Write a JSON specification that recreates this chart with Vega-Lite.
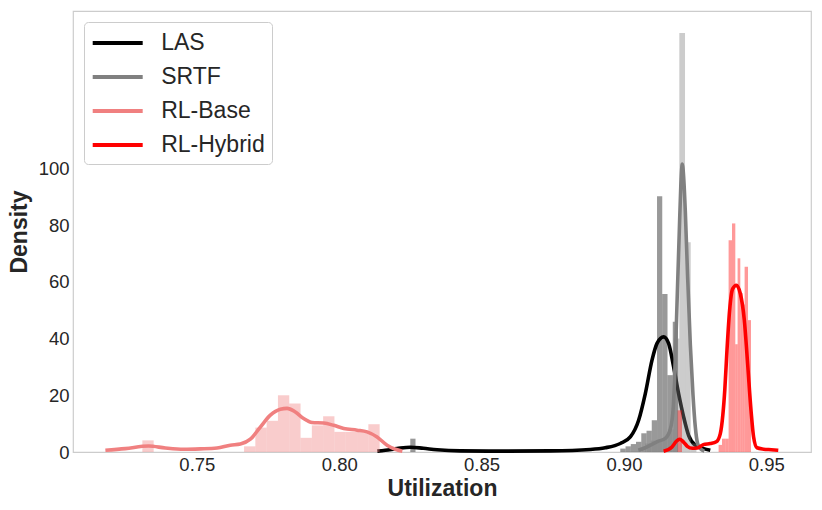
{
  "$schema": "https://vega.github.io/schema/vega-lite/v6.json",
  "width": 738,
  "height": 441,
  "autosize": {"type": "none"},
  "padding": {"left": 73, "top": 11, "right": 11, "bottom": 58},
  "background": "white",
  "datasets": {
    "hist": [
      {"g": "LAS", "x": 0.82496, "x2": 0.82680, "d": 4.7},
      {"g": "LAS", "x": 0.89871, "x2": 0.90056, "d": 1.2},
      {"g": "LAS", "x": 0.90056, "x2": 0.90240, "d": 2.0},
      {"g": "LAS", "x": 0.90240, "x2": 0.90424, "d": 2.8},
      {"g": "LAS", "x": 0.90424, "x2": 0.90609, "d": 3.6},
      {"g": "LAS", "x": 0.90609, "x2": 0.90793, "d": 6.6},
      {"g": "LAS", "x": 0.90793, "x2": 0.90977, "d": 7.5},
      {"g": "LAS", "x": 0.90977, "x2": 0.91162, "d": 11.2},
      {"g": "LAS", "x": 0.91162, "x2": 0.91346, "d": 90.2},
      {"g": "LAS", "x": 0.91346, "x2": 0.91531, "d": 55.7},
      {"g": "LAS", "x": 0.91531, "x2": 0.91715, "d": 27.1},
      {"g": "LAS", "x": 0.91715, "x2": 0.91899, "d": 45.9},
      {"g": "SRTF", "x": 0.90744, "x2": 0.90944, "d": 3},
      {"g": "SRTF", "x": 0.90944, "x2": 0.91144, "d": 4},
      {"g": "SRTF", "x": 0.91144, "x2": 0.91344, "d": 4},
      {"g": "SRTF", "x": 0.91344, "x2": 0.91545, "d": 5},
      {"g": "SRTF", "x": 0.91545, "x2": 0.91745, "d": 8},
      {"g": "SRTF", "x": 0.91745, "x2": 0.91945, "d": 40},
      {"g": "SRTF", "x": 0.91945, "x2": 0.92145, "d": 147.7},
      {"g": "SRTF", "x": 0.92145, "x2": 0.92345, "d": 74},
      {"g": "SRTF", "x": 0.92345, "x2": 0.92546, "d": 3},
      {"g": "RL-Base", "x": 0.73086, "x2": 0.73483, "d": 4.1},
      {"g": "RL-Base", "x": 0.76658, "x2": 0.77054, "d": 2.0},
      {"g": "RL-Base", "x": 0.77054, "x2": 0.77451, "d": 8.6},
      {"g": "RL-Base", "x": 0.77451, "x2": 0.77848, "d": 11.0},
      {"g": "RL-Base", "x": 0.77848, "x2": 0.78245, "d": 20.0},
      {"g": "RL-Base", "x": 0.78245, "x2": 0.78642, "d": 17.1},
      {"g": "RL-Base", "x": 0.78642, "x2": 0.79039, "d": 5.0},
      {"g": "RL-Base", "x": 0.79039, "x2": 0.79435, "d": 9.4},
      {"g": "RL-Base", "x": 0.79435, "x2": 0.79832, "d": 12.6},
      {"g": "RL-Base", "x": 0.79832, "x2": 0.80229, "d": 7.1},
      {"g": "RL-Base", "x": 0.80229, "x2": 0.80626, "d": 7.1},
      {"g": "RL-Base", "x": 0.80626, "x2": 0.81023, "d": 7.1},
      {"g": "RL-Base", "x": 0.81023, "x2": 0.81420, "d": 9.8},
      {"g": "RL-Hybrid", "x": 0.91885, "x2": 0.92040, "d": 14.7},
      {"g": "RL-Hybrid", "x": 0.93325, "x2": 0.93445, "d": 2.5},
      {"g": "RL-Hybrid", "x": 0.93445, "x2": 0.93560, "d": 4.7},
      {"g": "RL-Hybrid", "x": 0.93560, "x2": 0.93676, "d": 4.7},
      {"g": "RL-Hybrid", "x": 0.93676, "x2": 0.93796, "d": 74.7},
      {"g": "RL-Hybrid", "x": 0.93796, "x2": 0.93912, "d": 80.6},
      {"g": "RL-Hybrid", "x": 0.93912, "x2": 0.93992, "d": 38},
      {"g": "RL-Hybrid", "x": 0.93992, "x2": 0.94087, "d": 68.3},
      {"g": "RL-Hybrid", "x": 0.94087, "x2": 0.94175, "d": 56},
      {"g": "RL-Hybrid", "x": 0.94175, "x2": 0.94238, "d": 52},
      {"g": "RL-Hybrid", "x": 0.94238, "x2": 0.94358, "d": 65.3},
      {"g": "RL-Hybrid", "x": 0.94358, "x2": 0.94463, "d": 46.5}
    ],
    "kde": [
      {"s": "LAS", "x": 0.81339, "d": 0.3},
      {"s": "LAS", "x": 0.81620, "d": 0.6},
      {"s": "LAS", "x": 0.82031, "d": 1.2},
      {"s": "LAS", "x": 0.82498, "d": 1.7},
      {"s": "LAS", "x": 0.82954, "d": 1.3},
      {"s": "LAS", "x": 0.83436, "d": 0.8},
      {"s": "LAS", "x": 0.84254, "d": 0.4},
      {"s": "LAS", "x": 0.85659, "d": 0.3},
      {"s": "LAS", "x": 0.87415, "d": 0.4},
      {"s": "LAS", "x": 0.88819, "d": 0.9},
      {"s": "LAS", "x": 0.89346, "d": 1.5},
      {"s": "LAS", "x": 0.89873, "d": 3.0},
      {"s": "LAS", "x": 0.90224, "d": 5.3},
      {"s": "LAS", "x": 0.90516, "d": 11.2},
      {"s": "LAS", "x": 0.90751, "d": 20.6},
      {"s": "LAS", "x": 0.90986, "d": 32.4},
      {"s": "LAS", "x": 0.91162, "d": 38.3},
      {"s": "LAS", "x": 0.91394, "d": 40.6},
      {"s": "LAS", "x": 0.91569, "d": 38.3},
      {"s": "LAS", "x": 0.91745, "d": 30},
      {"s": "LAS", "x": 0.91920, "d": 20.6},
      {"s": "LAS", "x": 0.92096, "d": 12.4},
      {"s": "LAS", "x": 0.92271, "d": 5.9},
      {"s": "LAS", "x": 0.92507, "d": 2.4},
      {"s": "LAS", "x": 0.92798, "d": 1.2},
      {"s": "LAS", "x": 0.93033, "d": 0.6},
      {"s": "SRTF", "x": 0.90505, "d": 0.6},
      {"s": "SRTF", "x": 0.90751, "d": 1.5},
      {"s": "SRTF", "x": 0.90927, "d": 2.4},
      {"s": "SRTF", "x": 0.91208, "d": 3.8},
      {"s": "SRTF", "x": 0.91453, "d": 4.8},
      {"s": "SRTF", "x": 0.91629, "d": 8.0},
      {"s": "SRTF", "x": 0.91734, "d": 16},
      {"s": "SRTF", "x": 0.91804, "d": 33},
      {"s": "SRTF", "x": 0.91875, "d": 56},
      {"s": "SRTF", "x": 0.91945, "d": 78},
      {"s": "SRTF", "x": 0.91998, "d": 94},
      {"s": "SRTF", "x": 0.92050, "d": 101.5},
      {"s": "SRTF", "x": 0.92103, "d": 96},
      {"s": "SRTF", "x": 0.92155, "d": 85},
      {"s": "SRTF", "x": 0.92236, "d": 62},
      {"s": "SRTF", "x": 0.92331, "d": 38},
      {"s": "SRTF", "x": 0.92426, "d": 20},
      {"s": "SRTF", "x": 0.92507, "d": 8.8},
      {"s": "SRTF", "x": 0.92587, "d": 3},
      {"s": "SRTF", "x": 0.92682, "d": 1.2},
      {"s": "SRTF", "x": 0.92823, "d": 0.3},
      {"s": "RL-Base", "x": 0.71787, "d": 0.6},
      {"s": "RL-Base", "x": 0.72489, "d": 1.2},
      {"s": "RL-Base", "x": 0.73307, "d": 2.1},
      {"s": "RL-Base", "x": 0.73894, "d": 1.4},
      {"s": "RL-Base", "x": 0.74536, "d": 0.95},
      {"s": "RL-Base", "x": 0.75123, "d": 1.1},
      {"s": "RL-Base", "x": 0.75709, "d": 1.4},
      {"s": "RL-Base", "x": 0.76176, "d": 2.4},
      {"s": "RL-Base", "x": 0.76528, "d": 2.8},
      {"s": "RL-Base", "x": 0.76879, "d": 4.5},
      {"s": "RL-Base", "x": 0.77230, "d": 8.8},
      {"s": "RL-Base", "x": 0.77581, "d": 13.0},
      {"s": "RL-Base", "x": 0.77932, "d": 15.1},
      {"s": "RL-Base", "x": 0.78168, "d": 15.4},
      {"s": "RL-Base", "x": 0.78459, "d": 14.1},
      {"s": "RL-Base", "x": 0.78751, "d": 11.8},
      {"s": "RL-Base", "x": 0.79046, "d": 10.4},
      {"s": "RL-Base", "x": 0.79453, "d": 10.2},
      {"s": "RL-Base", "x": 0.79804, "d": 9.4},
      {"s": "RL-Base", "x": 0.80156, "d": 8.3},
      {"s": "RL-Base", "x": 0.80626, "d": 7.7},
      {"s": "RL-Base", "x": 0.80977, "d": 7.1},
      {"s": "RL-Base", "x": 0.81329, "d": 5.3},
      {"s": "RL-Base", "x": 0.81680, "d": 2.4},
      {"s": "RL-Base", "x": 0.81971, "d": 0.95},
      {"s": "RL-Base", "x": 0.82217, "d": 0.3},
      {"s": "RL-Hybrid", "x": 0.91394, "d": 0.3},
      {"s": "RL-Hybrid", "x": 0.91689, "d": 1.8},
      {"s": "RL-Hybrid", "x": 0.91840, "d": 3.8},
      {"s": "RL-Hybrid", "x": 0.91956, "d": 4.5},
      {"s": "RL-Hybrid", "x": 0.92085, "d": 3.6},
      {"s": "RL-Hybrid", "x": 0.92226, "d": 2.0},
      {"s": "RL-Hybrid", "x": 0.92402, "d": 1.3},
      {"s": "RL-Hybrid", "x": 0.92577, "d": 1.4},
      {"s": "RL-Hybrid", "x": 0.92788, "d": 2.6},
      {"s": "RL-Hybrid", "x": 0.93033, "d": 3.0},
      {"s": "RL-Hybrid", "x": 0.93244, "d": 3.6},
      {"s": "RL-Hybrid", "x": 0.93385, "d": 6.5},
      {"s": "RL-Hybrid", "x": 0.93473, "d": 13},
      {"s": "RL-Hybrid", "x": 0.93543, "d": 22},
      {"s": "RL-Hybrid", "x": 0.93620, "d": 36},
      {"s": "RL-Hybrid", "x": 0.93712, "d": 50},
      {"s": "RL-Hybrid", "x": 0.93817, "d": 57.5},
      {"s": "RL-Hybrid", "x": 0.93947, "d": 58.8},
      {"s": "RL-Hybrid", "x": 0.94087, "d": 55.9},
      {"s": "RL-Hybrid", "x": 0.94228, "d": 46.5},
      {"s": "RL-Hybrid", "x": 0.94344, "d": 31.2},
      {"s": "RL-Hybrid", "x": 0.94463, "d": 14.7},
      {"s": "RL-Hybrid", "x": 0.94554, "d": 5.3},
      {"s": "RL-Hybrid", "x": 0.94673, "d": 1.5},
      {"s": "RL-Hybrid", "x": 0.94905, "d": 1.0},
      {"s": "RL-Hybrid", "x": 0.95176, "d": 0.8},
      {"s": "RL-Hybrid", "x": 0.95421, "d": 0.6}
    ]
  },
  "encoding": {
    "x": {
      "field": "x",
      "type": "quantitative",
      "title": "Utilization",
      "scale": {"domain": [0.7065, 0.9657], "nice": false, "zero": false},
      "axis": {"values": [0.75, 0.8, 0.85, 0.9, 0.95], "format": ".2f", "labelPadding": 3, "titlePadding": 4}
    },
    "y": {
      "field": "d",
      "type": "quantitative",
      "title": "Density",
      "scale": {"domain": [0, 155.5], "nice": false},
      "axis": {"values": [0, 20, 40, 60, 80, 100], "format": "d", "labelPadding": 4, "titlePadding": 7}
    }
  },
  "layer": [
    {
      "data": {"name": "hist"},
      "transform": [{"filter": "datum.g === 'LAS'"}],
      "mark": {"type": "bar", "color": "#000000", "opacity": 0.4},
      "encoding": {"x2": {"field": "x2"}, "y2": {"datum": 0}}
    },
    {
      "data": {"name": "kde"},
      "transform": [{"filter": "datum.s === 'LAS'"}],
      "mark": {"type": "line", "strokeWidth": 3.6, "interpolate": "monotone"},
      "encoding": {
        "color": {"field": "s", "type": "nominal",
          "scale": {"domain": ["LAS", "SRTF", "RL-Base", "RL-Hybrid"], "range": ["#000000", "#808080", "#f08080", "#ff0000"]},
          "legend": {
            "title": null,
            "orient": "top-left",
            "offset": 11,
            "symbolType": "M-2.083,0H2.083",
            "symbolSize": 576,
            "symbolStrokeWidth": 4,
            "symbolOffset": 12.7,
            "labelFontSize": 23,
            "labelColor": "#262626",
            "labelOffset": 29.5,
            "rowPadding": 8,
            "padding": 7,
            "fillColor": "white",
            "strokeColor": "#cccccc",
            "cornerRadius": 4
          }
        }
      }
    },
    {
      "data": {"name": "hist"},
      "transform": [{"filter": "datum.g === 'SRTF'"}],
      "mark": {"type": "bar", "color": "#808080", "opacity": 0.4},
      "encoding": {"x2": {"field": "x2"}, "y2": {"datum": 0}}
    },
    {
      "data": {"name": "kde"},
      "transform": [{"filter": "datum.s === 'SRTF'"}],
      "mark": {"type": "line", "strokeWidth": 3.6, "interpolate": "monotone"},
      "encoding": {"color": {"field": "s", "type": "nominal"}}
    },
    {
      "data": {"name": "hist"},
      "transform": [{"filter": "datum.g === 'RL-Base'"}],
      "mark": {"type": "bar", "color": "#f08080", "opacity": 0.4},
      "encoding": {"x2": {"field": "x2"}, "y2": {"datum": 0}}
    },
    {
      "data": {"name": "kde"},
      "transform": [{"filter": "datum.s === 'RL-Base'"}],
      "mark": {"type": "line", "strokeWidth": 3.6, "interpolate": "monotone"},
      "encoding": {"color": {"field": "s", "type": "nominal"}}
    },
    {
      "data": {"name": "hist"},
      "transform": [{"filter": "datum.g === 'RL-Hybrid'"}],
      "mark": {"type": "bar", "color": "#ff0000", "opacity": 0.4},
      "encoding": {"x2": {"field": "x2"}, "y2": {"datum": 0}}
    },
    {
      "data": {"name": "kde"},
      "transform": [{"filter": "datum.s === 'RL-Hybrid'"}],
      "mark": {"type": "line", "strokeWidth": 3.6, "interpolate": "monotone"},
      "encoding": {"color": {"field": "s", "type": "nominal"}}
    }
  ],
  "config": {
    "font": "Liberation Sans",
    "view": {"stroke": "#cccccc", "strokeWidth": 1.2},
    "axis": {
      "grid": false,
      "ticks": false,
      "tickSize": 0,
      "domain": false,
      "labelFontSize": 18.5,
      "labelColor": "#262626",
      "titleFontSize": 23,
      "titleFontWeight": "bold",
      "titleColor": "#262626"
    }
  }
}
